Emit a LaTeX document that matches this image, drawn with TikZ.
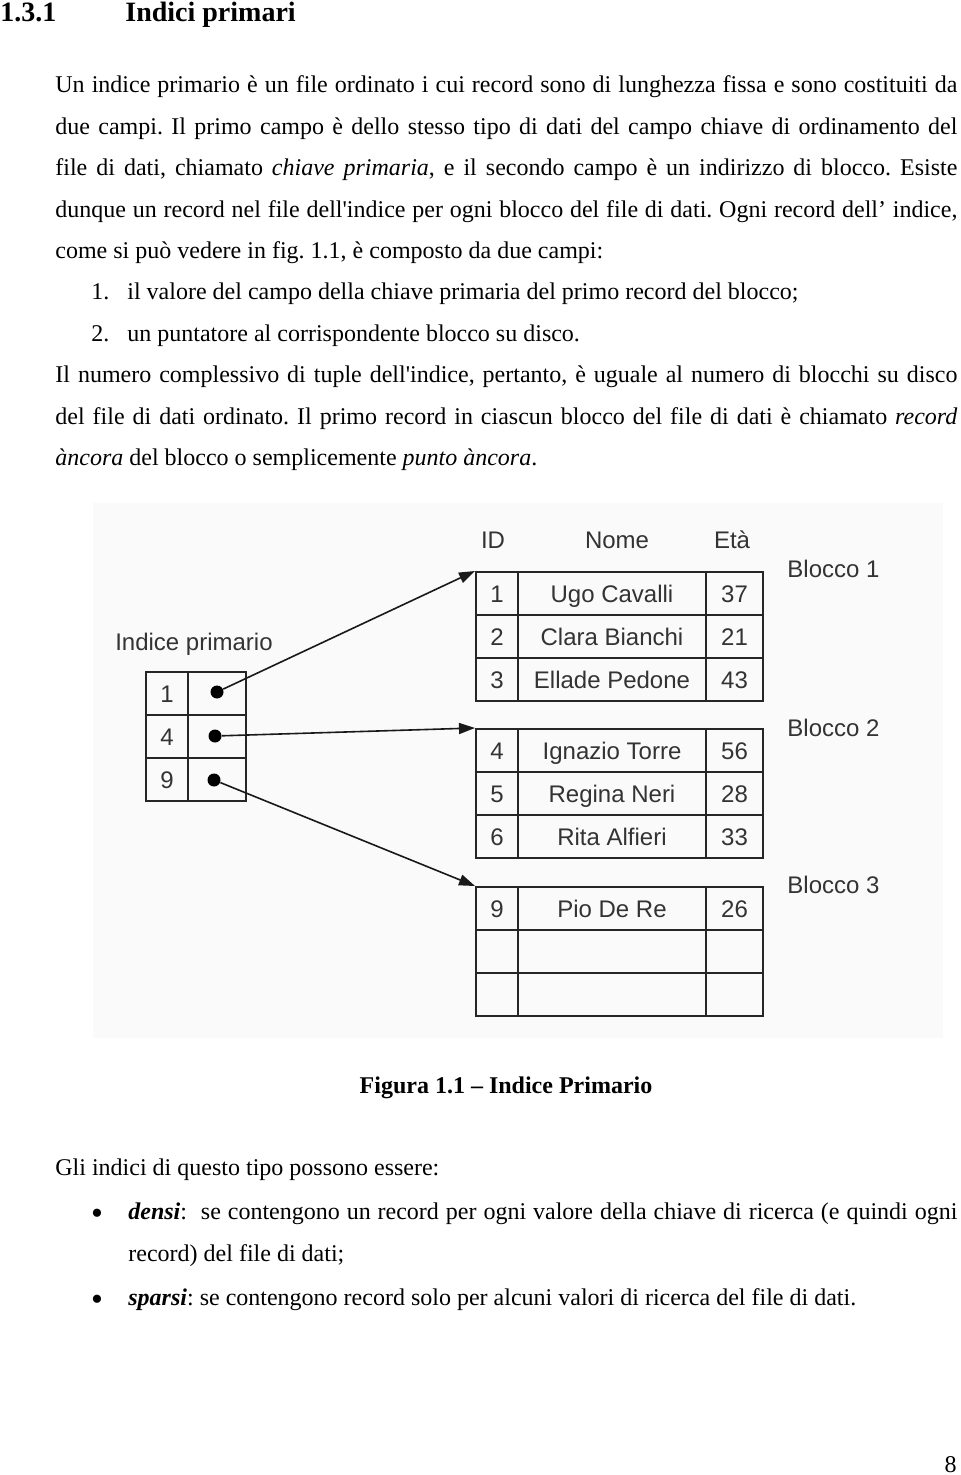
\documentclass[tikz,border=0pt]{standalone}
\usepackage{fontspec}
\setmainfont{Liberation Serif}
\newfontfamily\diagfont{Liberation Sans}
\usetikzlibrary{arrows.meta}
\frenchspacing
\begin{document}
\begin{tikzpicture}[x=0.5pt,y=-0.5pt,
  txt/.style={anchor=base west, inner sep=0pt, font=\fontsize{12}{14}\selectfont},
  head/.style={anchor=base west, inner sep=0pt, font=\bfseries\fontsize{14}{16}\selectfont},
  dtxt/.style={inner sep=0pt, text height=8.6pt, text depth=0pt, text=black!80, font=\diagfont\fontsize{12}{14}\selectfont},
  cell/.style={draw=black!85, line width=1pt, anchor=north west, minimum height=21.5pt,
    inner sep=0pt, text height=8.6pt, text depth=0pt, text=black!80, font=\diagfont\fontsize{12}{14}\selectfont},
  ca/.style={cell, minimum width=21pt},
  cb/.style={cell, minimum width=94pt},
  cc/.style={cell, minimum width=28.5pt},
  ia/.style={cell, minimum width=21pt},
  ib/.style={cell, minimum width=29pt},
  dot/.style={circle, fill=black, inner sep=0pt, minimum size=6.5pt},
  bul/.style={inner sep=0pt, font=\fontsize{17}{17}\selectfont},
  arr/.style={line width=0.8pt, black!90, -{Triangle[length=8pt,width=5.5pt]}}]
\useasboundingbox (0,0) rectangle (960,1475);
\fill[white] (0,0) rectangle (960,1475);

% heading
\node[head] (h1) at (0,22) {1.3.1};
\node[head] (h2) at (125,22) {Indici primari};

% paragraph
\node[txt] (l1) at (55,93) {\makebox[451pt][s]{Un indice primario è un file ordinato i cui record sono di lunghezza fissa e sono costituiti da}};
\node[txt] (l2) at (55,134.4) {\makebox[451pt][s]{due campi. Il primo campo è dello stesso tipo di dati del campo chiave di ordinamento del}};
\node[txt] (l3) at (55,175.8) {\makebox[451pt][s]{file di dati, chiamato \textit{chiave primaria}, e il secondo campo è un indirizzo di blocco. Esiste}};
\node[txt] (l4) at (55,217.2) {\makebox[451pt][s]{dunque un record nel file dell\textquotesingle indice per ogni blocco del file di dati. Ogni record dell’ indice,}};
\node[txt] (l5) at (55,258.6) {come si può vedere in fig. 1.1, è composto da due campi:};
\node[txt] (n1) at (91,300) {1.};
\node[txt] (l6) at (127,300) {il valore del campo della chiave primaria del primo record del blocco;};
\node[txt] (n2) at (91,341.4) {2.};
\node[txt] (l7) at (127,341.4) {un puntatore al corrispondente blocco su disco.};
\node[txt] (l8) at (55,382.8) {\makebox[451pt][s]{Il numero complessivo di tuple dell\textquotesingle indice, pertanto, è uguale al numero di blocchi su disco}};
\node[txt] (l9) at (55,424.2) {\makebox[451pt][s]{del file di dati ordinato. Il primo record in ciascun blocco del file di dati è chiamato \textit{record}}};
\node[txt] (l10) at (55,465.6) {\textit{àncora} del blocco o semplicemente \textit{punto àncora}.};

% figure background
\fill[black!2] (93,503) rectangle (943,1038);

% column headers
\node[dtxt] (hid) at (493,540) {ID};
\node[dtxt] (hnome) at (617,540) {Nome};
\node[dtxt] (heta) at (732,540) {Età};

% block 1
\node[ca] (t11a) at (475,571) {1};
\node[cb] (t11b) at (517,571) {Ugo Cavalli};
\node[cc] (t11c) at (705,571) {37};
\node[ca] (t12a) at (475,614) {2};
\node[cb] (t12b) at (517,614) {Clara Bianchi};
\node[cc] (t12c) at (705,614) {21};
\node[ca] (t13a) at (475,657) {3};
\node[cb] (t13b) at (517,657) {Ellade Pedone};
\node[cc] (t13c) at (705,657) {43};
% block 2
\node[ca] (t21a) at (475,728) {4};
\node[cb] (t21b) at (517,728) {Ignazio Torre};
\node[cc] (t21c) at (705,728) {56};
\node[ca] (t22a) at (475,771) {5};
\node[cb] (t22b) at (517,771) {Regina Neri};
\node[cc] (t22c) at (705,771) {28};
\node[ca] (t23a) at (475,814) {6};
\node[cb] (t23b) at (517,814) {Rita Alfieri};
\node[cc] (t23c) at (705,814) {33};
% block 3
\node[ca] (t31a) at (475,886) {9};
\node[cb] (t31b) at (517,886) {Pio De Re};
\node[cc] (t31c) at (705,886) {26};
\node[ca] (t32a) at (475,929) {};
\node[cb] (t32b) at (517,929) {};
\node[cc] (t32c) at (705,929) {};
\node[ca] (t33a) at (475,972) {};
\node[cb] (t33b) at (517,972) {};
\node[cc] (t33c) at (705,972) {};

% block labels
\node[dtxt, anchor=west] (b1) at (787,569) {Blocco 1};
\node[dtxt, anchor=west] (b2) at (787,728) {Blocco 2};
\node[dtxt, anchor=west] (b3) at (787,885) {Blocco 3};

% primary index
\node[dtxt] (ip) at (194,642) {Indice primario};
\node[ia] (i1a) at (145,671) {1};
\node[ib] (i1b) at (187,671) {};
\node[ia] (i2a) at (145,714) {4};
\node[ib] (i2b) at (187,714) {};
\node[ia] (i3a) at (145,757) {9};
\node[ib] (i3b) at (187,757) {};
\node[dot] (d1) at (217,692) {};
\node[dot] (d2) at (215,736) {};
\node[dot] (d3) at (214,780) {};

\draw[arr] (d1) -- (t11a.north west);
\draw[arr] (d2) -- (t21a.north west);
\draw[arr] (d3) -- (t31a.north west);

% caption
\node[anchor=base, inner sep=0pt, font=\bfseries\fontsize{12}{14}\selectfont] (cap) at (506,1093) {Figura 1.1 – Indice Primario};

% list
\node[txt] (g1) at (55,1175) {Gli indici di questo tipo possono essere:};
\node[bul] (bu1) at (97,1217) {•};
\node[txt] (g2) at (128,1219) {\makebox[414.5pt][s]{\textbf{\textit{densi}}:\ \ se contengono un record per ogni valore della chiave di ricerca (e quindi ogni}};
\node[txt] (g3) at (128,1261) {record) del file di dati;};
\node[bul] (bu2) at (97,1303) {•};
\node[txt] (g4) at (128,1305) {\textbf{\textit{sparsi}}: se contengono record solo per alcuni valori di ricerca del file di dati.};

% page number
\node[txt, anchor=base east] (pn) at (957,1472) {8};
\end{tikzpicture}
\end{document}
